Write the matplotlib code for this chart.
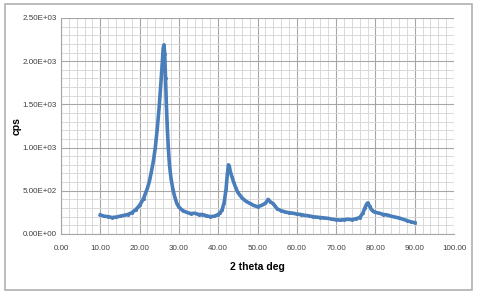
import matplotlib
matplotlib.use('Agg')
import matplotlib.pyplot as plt
from matplotlib.ticker import MultipleLocator, FormatStrFormatter
from matplotlib.patches import Rectangle

# XRD scan (2 theta in degrees, counts per second)
two_theta = [10, 11, 12, 13, 14, 15, 16, 17, 18, 19, 20, 21, 22, 22.5, 23, 23.5,
             24, 24.5, 25, 25.5, 25.8, 26.0, 26.2, 26.4, 26.6, 26.8, 27, 27.3,
             27.6, 28, 28.5, 29, 29.5, 30, 31, 32, 33, 34, 35, 36, 37, 38, 39,
             40, 40.5, 41, 41.5, 42, 42.3, 42.6, 42.8, 43.1, 43.5, 44, 44.5, 45,
             46, 47, 48, 49, 50, 51, 52, 52.7, 53.3, 54, 54.5, 55, 56, 57, 58,
             59, 60, 61, 62, 63, 64, 65, 66, 67, 68, 69, 70, 71, 72, 73, 74, 75,
             76, 76.8, 77.3, 77.8, 78.1, 78.5, 79, 79.5, 80, 81, 82, 83, 84, 85,
             86, 87, 88, 89, 90]
cps = [220, 205, 200, 190, 195, 205, 215, 225, 245, 280, 330, 410, 530, 610,
       720, 840, 1000, 1220, 1480, 1800, 2000, 2150, 2190, 2080, 1800, 1520,
       1280, 1000, 800, 640, 510, 420, 350, 310, 270, 250, 235, 240, 225, 225,
       210, 200, 205, 225, 245, 280, 360, 520, 680, 800, 790, 720, 660, 590,
       530, 480, 420, 380, 355, 330, 315, 330, 355, 400, 370, 350, 320, 290,
       270, 255, 245, 240, 230, 225, 215, 210, 200, 195, 190, 185, 180, 170,
       165, 160, 165, 170, 165, 175, 190, 240, 300, 350, 360, 320, 280, 260,
       250, 240, 225, 220, 205, 195, 185, 170, 155, 140, 130]

fig = plt.figure(figsize=(4.8, 2.95), dpi=100)
fig.patches.append(Rectangle((0.0104, 0.017), 0.973, 0.969, transform=fig.transFigure,
                             fill=False, edgecolor='#b0b0b0', linewidth=1.2))
ax = fig.add_axes([0.127, 0.207, 0.819, 0.732])

ax.plot(two_theta, cps, color='#4a7ebb', linewidth=2.6, marker='o', markersize=2.2,
        markeredgewidth=0)

ax.set_xlim(0, 100)
ax.set_ylim(0, 2500)
ax.xaxis.set_major_locator(MultipleLocator(10))
ax.xaxis.set_minor_locator(MultipleLocator(2))
ax.yaxis.set_major_locator(MultipleLocator(500))
ax.yaxis.set_minor_locator(MultipleLocator(100))
ax.xaxis.set_major_formatter(FormatStrFormatter('%.2f'))
ax.yaxis.set_major_formatter(FormatStrFormatter('%.2E'))

ax.grid(which='major', color='#a6a6a6', linewidth=0.8)
ax.grid(which='minor', color='#d9d9d9', linewidth=0.7)
ax.set_axisbelow(True)

for side in ['top', 'right']:
    ax.spines[side].set_visible(False)
for side in ['left', 'bottom']:
    ax.spines[side].set_color('#a6a6a6')
    ax.spines[side].set_linewidth(0.8)

font = ['Liberation Sans', 'DejaVu Sans']
ax.tick_params(which='both', length=0)
ax.tick_params(axis='x', pad=8)
ax.tick_params(axis='y', pad=3)
for lab in ax.get_xticklabels() + ax.get_yticklabels():
    lab.set_fontfamily(font)
    lab.set_fontsize(5.8)
    lab.set_color('#404040')

ax.set_xlabel('2 theta deg', fontsize=7.5, fontweight='bold', family=font)
ax.set_ylabel('cps', fontsize=7.5, fontweight='bold', family=font)
ax.xaxis.set_label_coords(0.5, -0.13)
ax.yaxis.set_label_coords(-0.099, 0.5)

fig.savefig('out.png', dpi=100)
